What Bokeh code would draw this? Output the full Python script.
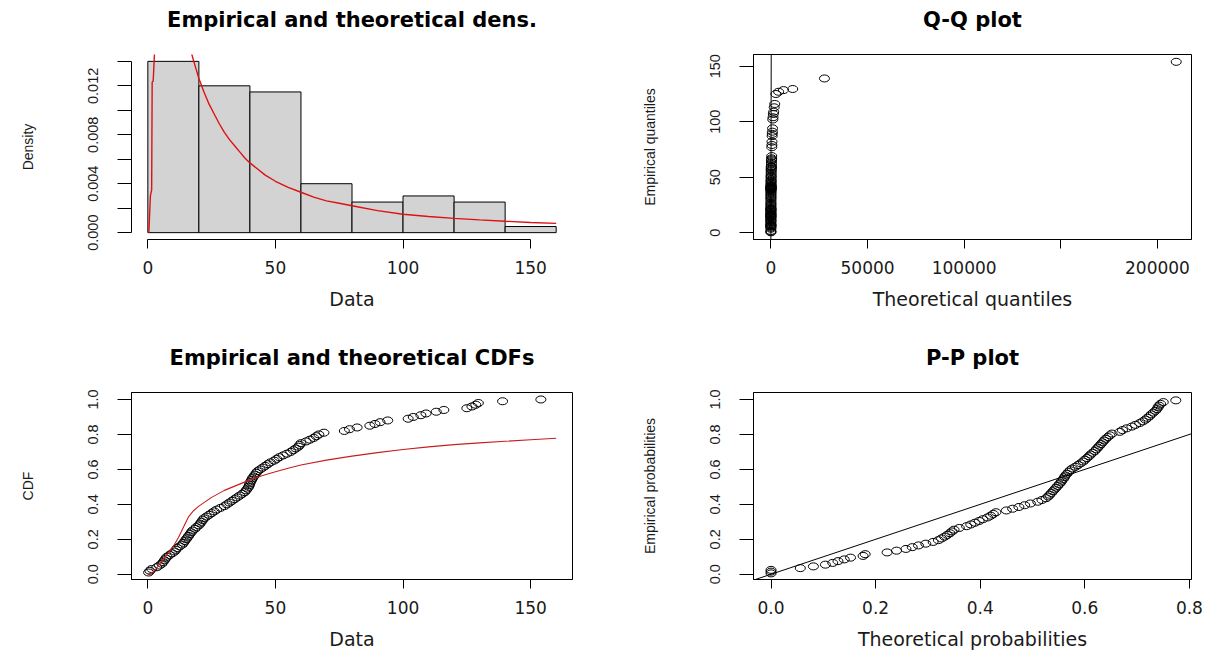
import math
from bokeh.plotting import figure
from bokeh.layouts import gridplot
from bokeh.models import FixedTicker, PrintfTickFormatter, Slope, Range1d, Title
from bokeh.embed import file_html
from bokeh.resources import INLINE

# ---------------- data ----------------
data = [0.3, 0.8, 1.5, 3.5, 4.5, 5.5, 6.0, 6.5, 7.0, 7.5,
        8.5, 9.5, 10.5, 11.0, 11.5, 12.5, 13.5, 14.0, 14.5, 15.0,
        15.5, 16.0, 16.5, 17.0, 17.5, 18.5, 19.0, 20.0,
        20.5, 21.0, 21.5, 22.0, 23.0, 24.0, 25.0, 26.0,
        27.0, 28.5, 30.0, 31.0, 32.0, 33.0, 34.0, 35.0, 36.0, 37.0,
        38.0, 38.5, 39.0, 39.5, 39.8, 40.0,
        40.3, 40.7, 41.0, 41.5, 42.0, 42.5, 43.0, 44.0, 45.0, 46.0, 47.0, 48.0,
        49.5, 50.5, 51.5, 53.0, 54.5, 56.0, 57.0, 58.0, 59.0, 59.5, 60.0,
        62.0, 63.5, 65.0, 66.0, 67.0, 69.0, 77.0, 79.0,
        82.0, 87.0, 89.0, 91.0, 94.0,
        102.0, 104.0, 107.0, 109.0, 113.0, 116.0,
        125.0, 127.0, 128.5, 129.5, 139.0,
        154.0]

bin_edges = [0, 20, 40, 60, 80, 100, 120, 140, 160]
hist_density = [0.014, 0.012, 0.0115, 0.004, 0.0025, 0.003, 0.0025, 0.0005]

dens_x = [0.4, 1.0, 1.5, 1.7, 2.1, 2.6, 3, 4, 6, 8, 10, 12, 14, 16, 17.2, 18,
          19, 20, 22, 24, 26, 28, 30, 32, 34, 36, 38, 40, 43, 46, 50, 55, 60,
          65, 70, 75, 80, 90, 100, 110, 120, 130, 140, 150, 160]
dens_y = [0, 0.003, 0.0035, 0.0123, 0.0124, 0.0146, 0.018, 0.022, 0.024, 0.025,
          0.025, 0.024, 0.021, 0.017, 0.0146, 0.0140, 0.0133, 0.0126, 0.0115,
          0.0105, 0.0097, 0.0089, 0.0082, 0.0076, 0.0071, 0.0066, 0.0061, 0.0057,
          0.0052, 0.0047, 0.0042, 0.0037, 0.0033, 0.0029, 0.0026, 0.0024, 0.0022,
          0.0018, 0.0015, 0.00132, 0.00117, 0.00104, 0.00093, 0.00083, 0.00076]

cdf_x = [0, 2, 4, 6, 8, 10, 12, 14, 16, 18, 20, 25, 30, 35, 40, 45, 50, 55, 60,
         70, 80, 90, 100, 110, 120, 130, 140, 150, 160]
cdf_y = [0, 0.01, 0.045, 0.088, 0.12, 0.16, 0.21, 0.27, 0.33, 0.365, 0.39, 0.44,
         0.48, 0.51, 0.54, 0.565, 0.587, 0.607, 0.625, 0.653, 0.676, 0.696, 0.714,
         0.729, 0.742, 0.752, 0.761, 0.77, 0.778]

qq_theo = [2, 3, 3, 3, 4, 4, 4, 5, 5, 6,
           6, 7, 7, 8, 8, 9, 9, 10, 10, 11,
           11, 12, 12, 13, 14, 14, 15, 16, 17, 18,
           19, 20, 21, 22, 23, 24, 25, 27, 28, 30,
           31, 33, 35, 36, 38, 40, 42, 44, 46, 49,
           51, 54, 57, 60, 63, 66, 70, 74, 78, 82,
           87, 92, 98, 104, 110, 118, 126, 134, 144, 155,
           167, 180, 195, 212, 232, 255, 280, 310, 345, 385,
           430, 470, 520, 570, 630, 700, 780, 870, 980, 1100,
           1250, 1450, 1700, 2000,
           2600, 4000, 6500, 11300, 27700, 209700]

pp_theo = [0.0, 0.0, 0.0, 0.056, 0.081, 0.104, 0.118, 0.128, 0.140, 0.152,
           0.176, 0.180, 0.222, 0.240, 0.258, 0.270, 0.282, 0.296, 0.310, 0.320,
           0.326, 0.332, 0.337, 0.342, 0.346, 0.350, 0.360, 0.374, 0.382, 0.390,
           0.398, 0.405, 0.414, 0.420, 0.425, 0.430, 0.450, 0.462, 0.474, 0.485,
           0.496, 0.510, 0.518, 0.526, 0.530, 0.533, 0.536, 0.539, 0.542, 0.545,
           0.548, 0.551, 0.554, 0.556, 0.559, 0.561, 0.563, 0.566, 0.569, 0.572,
           0.576, 0.582, 0.587, 0.592, 0.597, 0.600, 0.604, 0.608, 0.611, 0.615,
           0.619, 0.622, 0.625, 0.628, 0.631, 0.634, 0.637, 0.640, 0.644, 0.648,
           0.652, 0.667, 0.672, 0.680, 0.690, 0.697, 0.705, 0.711, 0.716, 0.720,
           0.724, 0.727, 0.731, 0.735, 0.738, 0.740, 0.742, 0.745, 0.750, 0.774]

n = len(data)
ecdf_y = [(i + 1) / n for i in range(n)]
ppos = [(i + 0.5) / n for i in range(n)]

TXT = "#1a1a1a"
HFONT = "DejaVu Sans"
VFONT = "Liberation Sans"
MW, MH = 10, 7


def make_fig(title, w, h, xr, yr, bl, br, bt, bb, box=True):
    p = figure(width=w, height=h, x_range=Range1d(*xr), y_range=Range1d(*yr),
               output_backend="svg", toolbar_location=None,
               min_border_left=bl, min_border_right=br,
               min_border_top=bt, min_border_bottom=bb, title=title)
    p.xgrid.visible = False
    p.ygrid.visible = False
    p.background_fill_color = "white"
    p.border_fill_color = "white"
    p.outline_line_color = "black" if box else None
    p.outline_line_width = 1
    p.title.text_font = HFONT
    p.title.text_font_size = "21px"
    p.title.text_font_style = "bold"
    p.title.text_color = "black"
    p.title.align = "center"
    p.title.standoff = 10
    # empty spacer between title and frame
    p.add_layout(Title(text=" ", text_font_size="1px", standoff=15), "above")
    return p


def style_axes(p, xticks, yticks, xfmt, yfmt, xlabel, ylabel,
               xminor=(), yminor=(), xbounds="auto", ybounds="auto"):
    xa = p.xaxis[0]
    ya = p.yaxis[0]
    xa.ticker = FixedTicker(ticks=list(xticks), minor_ticks=list(xminor))
    ya.ticker = FixedTicker(ticks=list(yticks), minor_ticks=list(yminor))
    xa.formatter = PrintfTickFormatter(format=xfmt)
    ya.formatter = PrintfTickFormatter(format=yfmt)
    xa.bounds = xbounds
    ya.bounds = ybounds
    for a, tick in ((xa, 9), (ya, 14)):
        a.axis_line_color = "black"
        a.axis_line_width = 1
        a.major_tick_line_color = "black"
        a.minor_tick_line_color = "black"
        a.major_tick_out = tick
        a.major_tick_in = 0
        a.minor_tick_out = tick
        a.minor_tick_in = 0
        a.major_label_text_color = TXT
        a.axis_label_text_color = TXT
        a.axis_label_text_font_style = "normal"
    xa.axis_label = xlabel
    xa.major_label_text_font = HFONT
    xa.major_label_text_font_size = "17px"
    xa.major_label_standoff = 12
    xa.axis_label_text_font = HFONT
    xa.axis_label_text_font_size = "19px"
    xa.axis_label_standoff = 11
    ya.axis_label = ylabel
    ya.major_label_orientation = "parallel"
    ya.major_label_text_font = VFONT
    ya.major_label_text_font_size = "14.5px"
    ya.major_label_standoff = 19
    ya.axis_label_text_font = VFONT
    ya.axis_label_text_font_size = "14px"
    ya.axis_label_standoff = 50


# ---------------- panel 1: histogram + density ----------------
p1 = make_fig("Empirical and theoretical dens.", 602, 322,
              (-6.4, 166.4), (-0.00056, 0.01456), 130, 30, 51, 83, box=False)
p1.quad(left=bin_edges[:-1], right=bin_edges[1:], bottom=0, top=hist_density,
        fill_color="#D3D3D3", line_color="black", line_width=1)
p1.line(dens_x, dens_y, line_color="#DD1111", line_width=1.4)
style_axes(p1, [0, 50, 100, 150], [0, 0.004, 0.008, 0.012], "%d", "%.3f",
           "Data", "Density", yminor=[0.002, 0.006, 0.010, 0.014],
           xbounds=(0, 150), ybounds=(0, 0.014))

# ---------------- panel 2: Q-Q plot ----------------
p2 = make_fig("Q-Q plot", 602, 322, (-9000, 217600), (-6.2, 160.6),
              151, 13, 51, 83)
p2.add_layout(Slope(gradient=1, y_intercept=0, line_color="black", line_width=1))
p2.ellipse(x=qq_theo, y=data, width=MW, height=MH, width_units="screen",
           height_units="screen", fill_color=None, line_color="black", line_width=1)
style_axes(p2, [0, 50000, 100000, 200000], [0, 50, 100, 150], "%d", "%d",
           "Theoretical quantiles", "Empirical quantiles", xminor=[150000])

# ---------------- panel 3: CDFs ----------------
p3 = make_fig("Empirical and theoretical CDFs", 602, 330, (-6.4, 166.4),
              (-0.030, 1.040), 131, 29, 70, 71)
p3.ellipse(x=data, y=ecdf_y, width=MW, height=MH, width_units="screen",
           height_units="screen", fill_color=None, line_color="black", line_width=1)
p3.line(cdf_x, cdf_y, line_color="#C81E1E", line_width=1.1)
style_axes(p3, [0, 50, 100, 150], [0, 0.2, 0.4, 0.6, 0.8, 1.0], "%d", "%.1f",
           "Data", "CDF")

# ---------------- panel 4: P-P plot ----------------
p4 = make_fig("P-P plot", 602, 330, (-0.0335, 0.804), (-0.030, 1.040),
              151, 13, 70, 71)
p4.add_layout(Slope(gradient=1, y_intercept=0, line_color="black", line_width=1))
p4.ellipse(x=pp_theo, y=ppos, width=MW, height=MH, width_units="screen",
           height_units="screen", fill_color=None, line_color="black", line_width=1)
style_axes(p4, [0, 0.2, 0.4, 0.6, 0.8], [0, 0.2, 0.4, 0.6, 0.8, 1.0], "%.1f", "%.1f",
           "Theoretical probabilities", "Empirical probabilities")

grid = gridplot([[p1, p2], [p3, p4]], toolbar_location=None)

open("out.html", "w").write(file_html(grid, INLINE))
